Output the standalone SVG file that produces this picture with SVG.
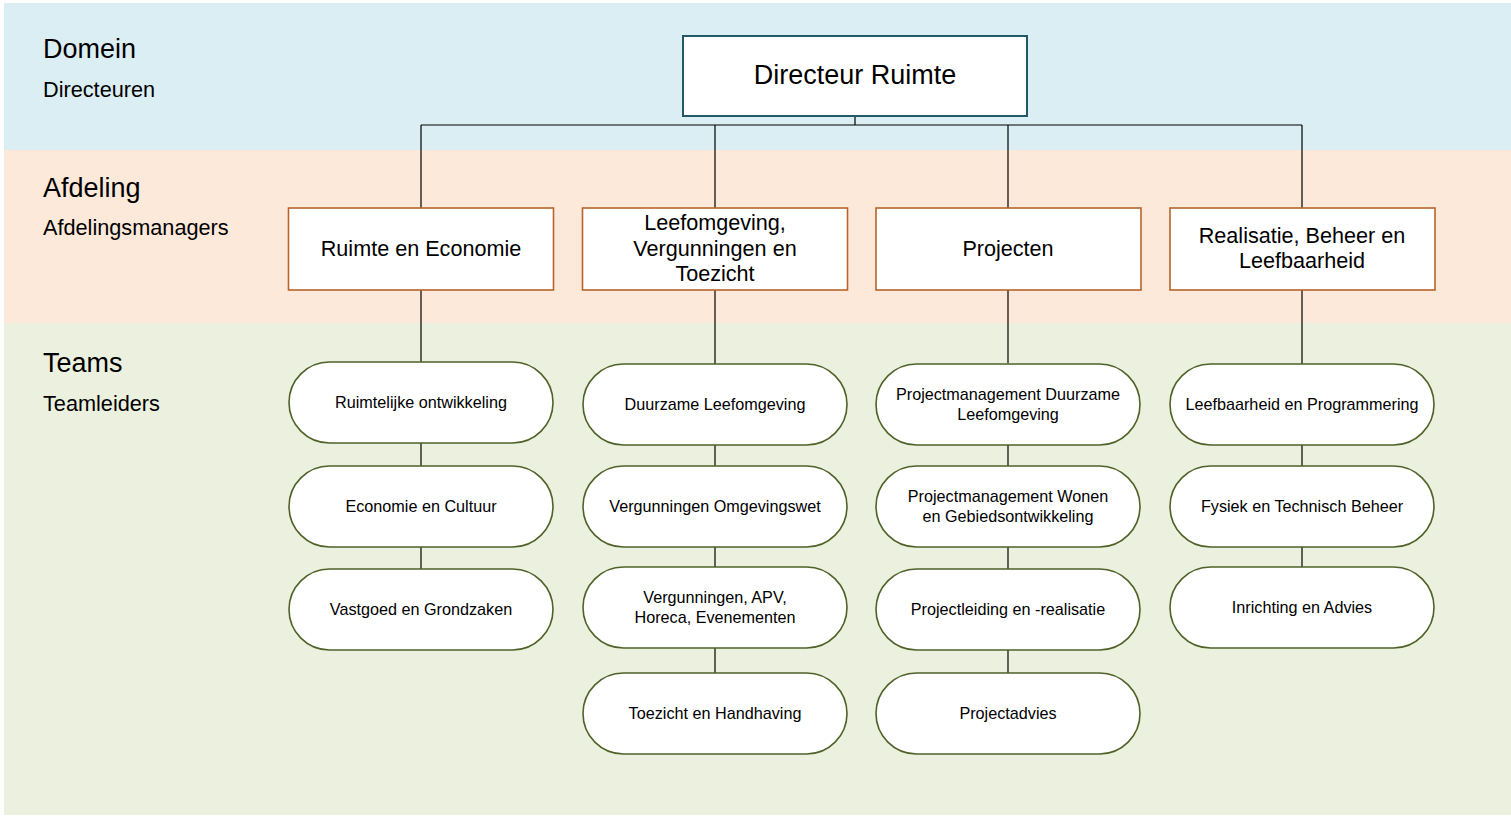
<svg xmlns="http://www.w3.org/2000/svg" width="1511" height="817" viewBox="0 0 1511 817">
<style>
.lbl{font-family:"Liberation Sans",Arial,sans-serif;fill:#000}
.h{font-size:27px}
.s{font-size:21.7px}
.dir{fill:#fff;stroke:#215967;stroke-width:2}
.dept{fill:#fff;stroke:#b7652a;stroke-width:1.6}
.team{fill:#fff;stroke:#4f6228;stroke-width:1.6}
.t1{font-size:27px}
.t2{font-size:21.6px}
.t3{font-size:16.2px}
.c{stroke:#000;stroke-width:1.2;fill:none}
</style>
<rect width="1511" height="817" fill="#fff"/>
<rect x="4" y="3" width="1507" height="147" fill="#dbeef3"/>
<rect x="4" y="150" width="1507" height="173" fill="#fde9d9"/>
<rect x="4" y="323" width="1507" height="492" fill="#ebf1de"/>
<g id="lane-labels" class="lbl">
<text x="43" y="58" class="h">Domein</text>
<text x="43" y="97" class="s">Directeuren</text>
<text x="43" y="197" class="h">Afdeling</text>
<text x="43" y="235" class="s">Afdelingsmanagers</text>
<text x="43" y="372" class="h">Teams</text>
<text x="43" y="411" class="s">Teamleiders</text>
</g>
<g id="connectors" class="c">
<path d="M855 116V125M421 125H1302M421 125V208M715 125V208M1008 125V208M1302 125V208"/>
<path d="M421 290V362M421 443V466M421 547V569"/>
<path d="M715 290V364M715 445V466M715 547V567M715 648V673"/>
<path d="M1008 290V363M1008 445V466M1008 547V569M1008 650V673"/>
<path d="M1302 290V364M1302 445V466M1302 547V567"/>
</g>
<g id="director">
<rect class="dir" x="683" y="36" width="344" height="80"/>
<text class="lbl t1" x="855" y="84" text-anchor="middle">Directeur Ruimte</text>
</g>
<g id="dept-re">
<rect class="dept" x="288.5" y="208" width="265" height="82"/>
<text class="lbl t2" x="421" y="256" text-anchor="middle">Ruimte en Economie</text>
</g>
<g id="dept-lvt">
<rect class="dept" x="582.5" y="208" width="265" height="82"/>
<text class="lbl t2" text-anchor="middle"><tspan x="715" y="230">Leefomgeving,</tspan><tspan x="715" y="256">Vergunningen en</tspan><tspan x="715" y="281">Toezicht</tspan></text>
</g>
<g id="dept-proj">
<rect class="dept" x="876" y="208" width="265" height="82"/>
<text class="lbl t2" x="1008" y="256" text-anchor="middle">Projecten</text>
</g>
<g id="dept-rbl">
<rect class="dept" x="1170" y="208" width="265" height="82"/>
<text class="lbl t2" text-anchor="middle"><tspan x="1302" y="243">Realisatie, Beheer en</tspan><tspan x="1302" y="268">Leefbaarheid</tspan></text>
</g>
<g id="team-ro">
<rect class="team" x="289" y="362" width="264" height="81" rx="40.5"/>
<text class="lbl t3" x="421" y="408" text-anchor="middle">Ruimtelijke ontwikkeling</text>
</g>
<g id="team-ec">
<rect class="team" x="289" y="466" width="264" height="81" rx="40.5"/>
<text class="lbl t3" x="421" y="512" text-anchor="middle">Economie en Cultuur</text>
</g>
<g id="team-vg">
<rect class="team" x="289" y="569" width="264" height="81" rx="40.5"/>
<text class="lbl t3" x="421" y="615" text-anchor="middle">Vastgoed en Grondzaken</text>
</g>
<g id="team-dl">
<rect class="team" x="583" y="364" width="264" height="81" rx="40.5"/>
<text class="lbl t3" x="715" y="410" text-anchor="middle">Duurzame Leefomgeving</text>
</g>
<g id="team-vo">
<rect class="team" x="583" y="466" width="264" height="81" rx="40.5"/>
<text class="lbl t3" x="715" y="512" text-anchor="middle">Vergunningen Omgevingswet</text>
</g>
<g id="team-va">
<rect class="team" x="583" y="567" width="264" height="81" rx="40.5"/>
<text class="lbl t3" text-anchor="middle"><tspan x="715" y="603">Vergunningen, APV,</tspan><tspan x="715" y="623">Horeca, Evenementen</tspan></text>
</g>
<g id="team-th">
<rect class="team" x="583" y="673" width="264" height="81" rx="40.5"/>
<text class="lbl t3" x="715" y="719" text-anchor="middle">Toezicht en Handhaving</text>
</g>
<g id="team-pdl">
<rect class="team" x="876" y="364" width="264" height="81" rx="40.5"/>
<text class="lbl t3" text-anchor="middle"><tspan x="1008" y="400">Projectmanagement Duurzame</tspan><tspan x="1008" y="420">Leefomgeving</tspan></text>
</g>
<g id="team-pwg">
<rect class="team" x="876" y="466" width="264" height="81" rx="40.5"/>
<text class="lbl t3" text-anchor="middle"><tspan x="1008" y="502">Projectmanagement Wonen</tspan><tspan x="1008" y="522">en Gebiedsontwikkeling</tspan></text>
</g>
<g id="team-plr">
<rect class="team" x="876" y="569" width="264" height="81" rx="40.5"/>
<text class="lbl t3" x="1008" y="615" text-anchor="middle">Projectleiding en -realisatie</text>
</g>
<g id="team-pa">
<rect class="team" x="876" y="673" width="264" height="81" rx="40.5"/>
<text class="lbl t3" x="1008" y="719" text-anchor="middle">Projectadvies</text>
</g>
<g id="team-lp">
<rect class="team" x="1170" y="364" width="264" height="81" rx="40.5"/>
<text class="lbl t3" x="1302" y="410" text-anchor="middle">Leefbaarheid en Programmering</text>
</g>
<g id="team-ftb">
<rect class="team" x="1170" y="466" width="264" height="81" rx="40.5"/>
<text class="lbl t3" x="1302" y="512" text-anchor="middle">Fysiek en Technisch Beheer</text>
</g>
<g id="team-ia">
<rect class="team" x="1170" y="567" width="264" height="81" rx="40.5"/>
<text class="lbl t3" x="1302" y="613" text-anchor="middle">Inrichting en Advies</text>
</g>
</svg>
